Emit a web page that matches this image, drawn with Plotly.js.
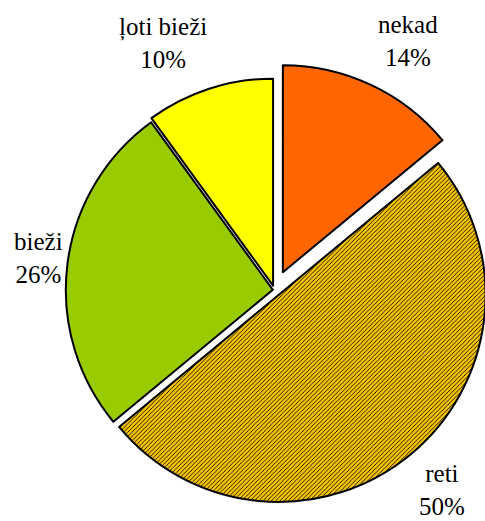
<!DOCTYPE html>
<html>
<head>
<meta charset="utf-8">
<script src="https://cdn.plot.ly/plotly-3.0.1.min.js"></script>
<style>
html, body { margin: 0; padding: 0; overflow: hidden; background: #fff; }
#chart { width: 520px; height: 521px; }
</style>
</head>
<body>
<div id="chart"></div>
<script>
const labels = ["nekad", "reti", "bieži", "ļoti bieži"];
const values = [14, 50, 26, 10];
const colors = ["#FF6600", "#F5C400", "#99CC00", "#FFFF00"];
const pulls = [0.095, 0.031, 0.008, 0.022];

// label block centres (pixels) for the outside text
const labelPos = [[408, 41], [442, 490], [38, 258], [163, 43]];

const W = 520, H = 521;
const total = values.reduce((a, b) => a + b, 0);
const FONT = "'Liberation Serif', 'Times New Roman', serif";

const trace = {
  type: "pie",
  labels: labels,
  values: values,
  sort: false,
  direction: "clockwise",
  rotation: 0,
  pull: pulls,
  textinfo: "none",
  hoverinfo: "label+percent",
  showlegend: false,
  domain: { x: [47.8 / W, 501.2 / W], y: [1 - 516.7 / H, 1 - 63.3 / H] },
  marker: {
    colors: colors,
    line: { color: "#000000", width: 2 },
    pattern: {
      shape: ["", "/", "", ""],
      fgcolor: "#000000",
      bgcolor: colors,
      size: 3,
      solidity: 0.28
    }
  }
};

const annotations = labels.map((l, i) => ({
  xref: "paper", yref: "paper",
  x: labelPos[i][0] / W,
  y: 1 - labelPos[i][1] / H,
  xanchor: "center", yanchor: "middle",
  showarrow: false,
  align: "center",
  text: l + "<br>" + Math.round(values[i] / total * 100) + "%",
  font: { family: FONT, size: 25, color: "#000000" }
}));

const layout = {
  width: W, height: H,
  margin: { l: 0, r: 0, t: 0, b: 0 },
  paper_bgcolor: "#ffffff",
  plot_bgcolor: "#ffffff",
  font: { family: FONT },
  annotations: annotations
};

Plotly.newPlot("chart", [trace], layout, { displayModeBar: false, staticPlot: true });
</script>
</body>
</html>
